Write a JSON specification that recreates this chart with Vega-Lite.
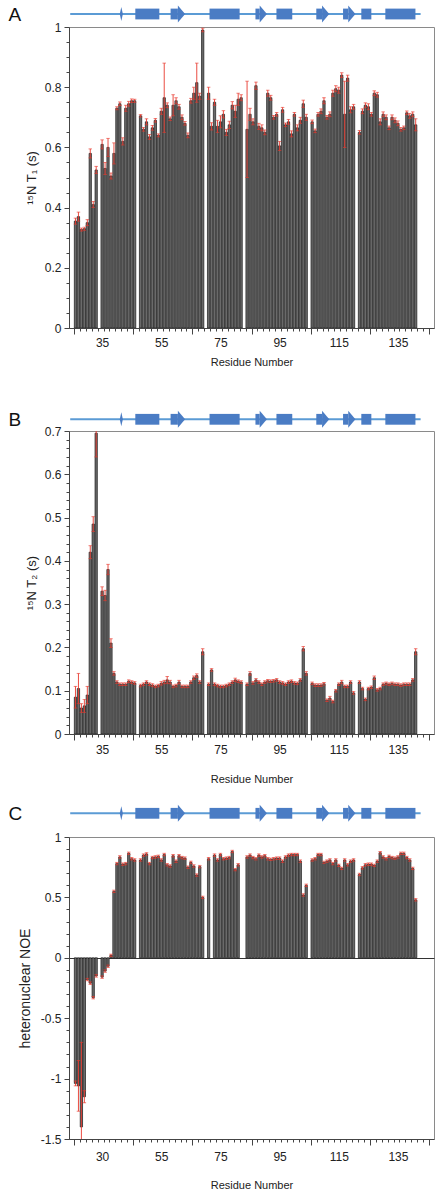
{
  "$schema": "https://vega.github.io/schema/vega-lite/v6.json",
  "padding": {"left": 8, "top": 0, "right": 0, "bottom": 0},
  "spacing": 0,
  "bounds": "flush",
  "config": {
    "font": "Liberation Sans",
    "view": {"stroke": "#8a8a8a"},
    "axis": {"grid": false, "domainColor": "#444", "tickColor": "#444", "labelColor": "#222", "titleColor": "#222", "labelFontSize": 12, "titleFontWeight": "normal", "labelOverlap": false, "labelFlush": false, "labelBound": false}
  },
  "datasets": {
    "coil": [{"s": 25.9, "e": 141.1}],
    "helix": [{"s": 47.3, "e": 55.2}, {"s": 71.7, "e": 81.6}, {"s": 93.7, "e": 98.9}, {"s": 121.6, "e": 124.9}, {"s": 129.5, "e": 139.4}],
    "strand": [{"s": 58.9, "e": 61.3}, {"s": 86.8, "e": 88.2}, {"s": 106.8, "e": 108.7}, {"s": 115.6, "e": 117.3}],
    "bridge": [{"p": 42.7}],
    "t1": [
      {"r":26,"v":0.355,"e":0.01},{"r":27,"v":0.37,"e":0.015},{"r":28,"v":0.327,"e":0.005},{"r":29,"v":0.33,"e":0.005},{"r":30,"v":0.35,"e":0.01},{"r":31,"v":0.58,"e":0.015},{"r":32,"v":0.41,"e":0.01},{"r":33,"v":0.525,"e":0.012},{"r":35,"v":0.61,"e":0.015},{"r":36,"v":0.53,"e":0.02},{"r":37,"v":0.6,"e":0.03},{"r":38,"v":0.505,"e":0.01},{"r":39,"v":0.58,"e":0.035},{"r":40,"v":0.73,"e":0.005},{"r":41,"v":0.745,"e":0.006},{"r":42,"v":0.62,"e":0.012},{"r":43,"v":0.73,"e":0.01},{"r":44,"v":0.745,"e":0.008},{"r":45,"v":0.755,"e":0.006},{"r":46,"v":0.755,"e":0.005},
      {"r":48,"v":0.705,"e":0.004},{"r":49,"v":0.66,"e":0.006},{"r":50,"v":0.685,"e":0.01},{"r":51,"v":0.635,"e":0.008},{"r":52,"v":0.665,"e":0.008},{"r":53,"v":0.69,"e":0.006},{"r":54,"v":0.64,"e":0.005},{"r":55,"v":0.72,"e":0.01},{"r":56,"v":0.765,"e":0.115},{"r":57,"v":0.74,"e":0.008},{"r":58,"v":0.695,"e":0.006},{"r":59,"v":0.74,"e":0.035},{"r":60,"v":0.755,"e":0.01},{"r":61,"v":0.735,"e":0.008},{"r":62,"v":0.7,"e":0.008},{"r":63,"v":0.68,"e":0.006},{"r":64,"v":0.64,"e":0.008},{"r":65,"v":0.755,"e":0.008},{"r":66,"v":0.78,"e":0.02},{"r":67,"v":0.815,"e":0.065},{"r":68,"v":0.77,"e":0.01},{"r":69,"v":0.99,"e":0.006},
      {"r":71,"v":0.78,"e":0.02},{"r":72,"v":0.67,"e":0.012},{"r":73,"v":0.75,"e":0.01},{"r":74,"v":0.67,"e":0.02},{"r":75,"v":0.685,"e":0.02},{"r":76,"v":0.71,"e":0.012},{"r":77,"v":0.65,"e":0.01},{"r":78,"v":0.675,"e":0.012},{"r":79,"v":0.74,"e":0.012},{"r":80,"v":0.72,"e":0.02},{"r":81,"v":0.76,"e":0.02},{"r":82,"v":0.765,"e":0.01},
      {"r":84,"v":0.66,"e":0.16},{"r":85,"v":0.71,"e":0.02},{"r":86,"v":0.685,"e":0.01},{"r":87,"v":0.805,"e":0.012},{"r":88,"v":0.67,"e":0.01},{"r":89,"v":0.665,"e":0.01},{"r":90,"v":0.65,"e":0.008},{"r":91,"v":0.78,"e":0.01},{"r":92,"v":0.765,"e":0.008},{"r":93,"v":0.7,"e":0.006},{"r":94,"v":0.71,"e":0.006},{"r":95,"v":0.605,"e":0.015},{"r":96,"v":0.725,"e":0.008},{"r":97,"v":0.675,"e":0.006},{"r":98,"v":0.685,"e":0.008},{"r":99,"v":0.645,"e":0.01},{"r":100,"v":0.71,"e":0.006},{"r":101,"v":0.665,"e":0.01},{"r":102,"v":0.69,"e":0.01},{"r":103,"v":0.745,"e":0.012},{"r":104,"v":0.7,"e":0.01},
      {"r":106,"v":0.685,"e":0.006},{"r":107,"v":0.655,"e":0.006},{"r":108,"v":0.71,"e":0.006},{"r":109,"v":0.72,"e":0.008},{"r":110,"v":0.755,"e":0.01},{"r":111,"v":0.7,"e":0.006},{"r":112,"v":0.71,"e":0.008},{"r":113,"v":0.78,"e":0.01},{"r":114,"v":0.795,"e":0.01},{"r":115,"v":0.79,"e":0.01},{"r":116,"v":0.84,"e":0.008},{"r":117,"v":0.71,"e":0.11},{"r":118,"v":0.83,"e":0.01},{"r":119,"v":0.725,"e":0.01},{"r":120,"v":0.735,"e":0.008},
      {"r":122,"v":0.65,"e":0.006},{"r":123,"v":0.72,"e":0.008},{"r":124,"v":0.74,"e":0.008},{"r":125,"v":0.735,"e":0.01},{"r":126,"v":0.71,"e":0.006},{"r":127,"v":0.78,"e":0.008},{"r":128,"v":0.775,"e":0.008},{"r":129,"v":0.685,"e":0.01},{"r":130,"v":0.71,"e":0.008},{"r":131,"v":0.7,"e":0.008},{"r":132,"v":0.665,"e":0.006},{"r":133,"v":0.7,"e":0.008},{"r":134,"v":0.69,"e":0.008},{"r":135,"v":0.68,"e":0.008},{"r":136,"v":0.66,"e":0.006},{"r":137,"v":0.665,"e":0.006},{"r":138,"v":0.715,"e":0.006},{"r":139,"v":0.705,"e":0.008},{"r":140,"v":0.71,"e":0.008},{"r":141,"v":0.675,"e":0.02}
    ],
    "t2": [
      {"r":26,"v":0.085,"e":0.025},{"r":27,"v":0.105,"e":0.035},{"r":28,"v":0.06,"e":0.01},{"r":29,"v":0.065,"e":0.015},{"r":30,"v":0.09,"e":0.02},{"r":31,"v":0.42,"e":0.015},{"r":32,"v":0.485,"e":0.017},{"r":33,"v":0.695,"e":0.055},{"r":35,"v":0.33,"e":0.01},{"r":36,"v":0.32,"e":0.012},{"r":37,"v":0.38,"e":0.012},{"r":38,"v":0.21,"e":0.01},{"r":39,"v":0.14,"e":0.004},{"r":40,"v":0.12,"e":0.003},{"r":41,"v":0.115,"e":0.003},{"r":42,"v":0.115,"e":0.003},{"r":43,"v":0.115,"e":0.003},{"r":44,"v":0.122,"e":0.003},{"r":45,"v":0.12,"e":0.003},{"r":46,"v":0.118,"e":0.003},
      {"r":48,"v":0.112,"e":0.003},{"r":49,"v":0.115,"e":0.003},{"r":50,"v":0.12,"e":0.003},{"r":51,"v":0.115,"e":0.003},{"r":52,"v":0.113,"e":0.003},{"r":53,"v":0.11,"e":0.003},{"r":54,"v":0.112,"e":0.003},{"r":55,"v":0.117,"e":0.004},{"r":56,"v":0.12,"e":0.004},{"r":57,"v":0.125,"e":0.008},{"r":58,"v":0.12,"e":0.004},{"r":59,"v":0.11,"e":0.003},{"r":60,"v":0.112,"e":0.003},{"r":61,"v":0.12,"e":0.004},{"r":62,"v":0.11,"e":0.003},{"r":63,"v":0.11,"e":0.003},{"r":64,"v":0.11,"e":0.003},{"r":65,"v":0.12,"e":0.003},{"r":66,"v":0.13,"e":0.004},{"r":67,"v":0.135,"e":0.004},{"r":68,"v":0.12,"e":0.003},{"r":69,"v":0.19,"e":0.007},
      {"r":71,"v":0.115,"e":0.003},{"r":72,"v":0.148,"e":0.003},{"r":73,"v":0.115,"e":0.003},{"r":74,"v":0.112,"e":0.003},{"r":75,"v":0.11,"e":0.003},{"r":76,"v":0.11,"e":0.003},{"r":77,"v":0.112,"e":0.003},{"r":78,"v":0.115,"e":0.003},{"r":79,"v":0.12,"e":0.003},{"r":80,"v":0.125,"e":0.004},{"r":81,"v":0.122,"e":0.003},{"r":82,"v":0.12,"e":0.003},
      {"r":84,"v":0.115,"e":0.003},{"r":85,"v":0.14,"e":0.004},{"r":86,"v":0.118,"e":0.003},{"r":87,"v":0.125,"e":0.003},{"r":88,"v":0.12,"e":0.003},{"r":89,"v":0.115,"e":0.003},{"r":90,"v":0.12,"e":0.003},{"r":91,"v":0.123,"e":0.003},{"r":92,"v":0.122,"e":0.003},{"r":93,"v":0.123,"e":0.003},{"r":94,"v":0.125,"e":0.003},{"r":95,"v":0.12,"e":0.003},{"r":96,"v":0.118,"e":0.003},{"r":97,"v":0.115,"e":0.003},{"r":98,"v":0.12,"e":0.003},{"r":99,"v":0.122,"e":0.003},{"r":100,"v":0.118,"e":0.003},{"r":101,"v":0.117,"e":0.003},{"r":102,"v":0.125,"e":0.003},{"r":103,"v":0.197,"e":0.005},{"r":104,"v":0.14,"e":0.004},
      {"r":106,"v":0.117,"e":0.003},{"r":107,"v":0.113,"e":0.003},{"r":108,"v":0.113,"e":0.003},{"r":109,"v":0.113,"e":0.003},{"r":110,"v":0.116,"e":0.003},{"r":111,"v":0.078,"e":0.003},{"r":112,"v":0.083,"e":0.004},{"r":113,"v":0.075,"e":0.003},{"r":114,"v":0.1,"e":0.003},{"r":115,"v":0.115,"e":0.003},{"r":116,"v":0.12,"e":0.004},{"r":117,"v":0.11,"e":0.003},{"r":118,"v":0.11,"e":0.003},{"r":119,"v":0.12,"e":0.003},{"r":120,"v":0.095,"e":0.003},
      {"r":122,"v":0.12,"e":0.003},{"r":123,"v":0.105,"e":0.003},{"r":124,"v":0.08,"e":0.003},{"r":125,"v":0.105,"e":0.003},{"r":126,"v":0.108,"e":0.003},{"r":127,"v":0.13,"e":0.004},{"r":128,"v":0.102,"e":0.003},{"r":129,"v":0.105,"e":0.003},{"r":130,"v":0.115,"e":0.003},{"r":131,"v":0.117,"e":0.003},{"r":132,"v":0.115,"e":0.003},{"r":133,"v":0.117,"e":0.003},{"r":134,"v":0.115,"e":0.003},{"r":135,"v":0.115,"e":0.003},{"r":136,"v":0.113,"e":0.003},{"r":137,"v":0.115,"e":0.003},{"r":138,"v":0.115,"e":0.003},{"r":139,"v":0.115,"e":0.003},{"r":140,"v":0.125,"e":0.003},{"r":141,"v":0.19,"e":0.007}
    ],
    "noe": [
      {"r":26,"v":-1.04,"e":0.02},{"r":27,"v":-1.06,"e":0.21},{"r":28,"v":-1.4,"e":0.7},{"r":29,"v":-1.15,"e":0.05},{"r":30,"v":-0.18,"e":0.01},{"r":31,"v":-0.21,"e":0.01},{"r":32,"v":-0.33,"e":0.01},{"r":33,"v":-0.15,"e":0.01},{"r":35,"v":-0.16,"e":0.01},{"r":36,"v":-0.11,"e":0.01},{"r":37,"v":-0.07,"e":0.01},{"r":38,"v":0.02,"e":0.01},{"r":39,"v":0.55,"e":0.01},{"r":40,"v":0.78,"e":0.01},{"r":41,"v":0.835,"e":0.01},{"r":42,"v":0.775,"e":0.01},{"r":43,"v":0.78,"e":0.01},{"r":44,"v":0.865,"e":0.01},{"r":45,"v":0.82,"e":0.01},{"r":46,"v":0.81,"e":0.01},
      {"r":48,"v":0.81,"e":0.01},{"r":49,"v":0.85,"e":0.01},{"r":50,"v":0.86,"e":0.01},{"r":51,"v":0.78,"e":0.01},{"r":52,"v":0.83,"e":0.01},{"r":53,"v":0.835,"e":0.01},{"r":54,"v":0.84,"e":0.01},{"r":55,"v":0.81,"e":0.01},{"r":56,"v":0.855,"e":0.01},{"r":57,"v":0.77,"e":0.01},{"r":58,"v":0.76,"e":0.01},{"r":59,"v":0.845,"e":0.01},{"r":60,"v":0.8,"e":0.01},{"r":61,"v":0.845,"e":0.01},{"r":62,"v":0.83,"e":0.01},{"r":63,"v":0.825,"e":0.01},{"r":64,"v":0.75,"e":0.01},{"r":65,"v":0.79,"e":0.01},{"r":66,"v":0.76,"e":0.01},{"r":67,"v":0.685,"e":0.01},{"r":68,"v":0.755,"e":0.01},{"r":69,"v":0.5,"e":0.01},
      {"r":71,"v":0.82,"e":0.01},{"r":73,"v":0.85,"e":0.01},{"r":74,"v":0.81,"e":0.01},{"r":75,"v":0.855,"e":0.01},{"r":76,"v":0.82,"e":0.01},{"r":77,"v":0.825,"e":0.01},{"r":78,"v":0.83,"e":0.01},{"r":79,"v":0.88,"e":0.01},{"r":80,"v":0.73,"e":0.01},{"r":81,"v":0.77,"e":0.01},
      {"r":84,"v":0.835,"e":0.01},{"r":85,"v":0.85,"e":0.01},{"r":86,"v":0.83,"e":0.01},{"r":87,"v":0.82,"e":0.01},{"r":88,"v":0.85,"e":0.01},{"r":89,"v":0.835,"e":0.01},{"r":90,"v":0.845,"e":0.01},{"r":91,"v":0.82,"e":0.01},{"r":92,"v":0.815,"e":0.01},{"r":93,"v":0.82,"e":0.01},{"r":94,"v":0.825,"e":0.01},{"r":95,"v":0.825,"e":0.01},{"r":96,"v":0.8,"e":0.01},{"r":97,"v":0.835,"e":0.01},{"r":98,"v":0.85,"e":0.01},{"r":99,"v":0.855,"e":0.01},{"r":100,"v":0.855,"e":0.01},{"r":101,"v":0.855,"e":0.01},{"r":102,"v":0.8,"e":0.01},{"r":103,"v":0.52,"e":0.01},{"r":104,"v":0.6,"e":0.01},
      {"r":106,"v":0.81,"e":0.01},{"r":107,"v":0.82,"e":0.01},{"r":108,"v":0.855,"e":0.01},{"r":109,"v":0.855,"e":0.01},{"r":110,"v":0.79,"e":0.01},{"r":111,"v":0.8,"e":0.01},{"r":112,"v":0.81,"e":0.01},{"r":113,"v":0.78,"e":0.01},{"r":114,"v":0.81,"e":0.01},{"r":115,"v":0.765,"e":0.01},{"r":116,"v":0.74,"e":0.01},{"r":117,"v":0.81,"e":0.01},{"r":118,"v":0.77,"e":0.01},{"r":119,"v":0.8,"e":0.01},{"r":120,"v":0.81,"e":0.01},
      {"r":122,"v":0.69,"e":0.01},{"r":123,"v":0.745,"e":0.01},{"r":124,"v":0.77,"e":0.01},{"r":125,"v":0.775,"e":0.01},{"r":126,"v":0.775,"e":0.01},{"r":127,"v":0.765,"e":0.01},{"r":128,"v":0.8,"e":0.01},{"r":129,"v":0.87,"e":0.01},{"r":130,"v":0.835,"e":0.01},{"r":131,"v":0.82,"e":0.01},{"r":132,"v":0.84,"e":0.01},{"r":133,"v":0.83,"e":0.01},{"r":134,"v":0.825,"e":0.01},{"r":135,"v":0.835,"e":0.01},{"r":136,"v":0.865,"e":0.01},{"r":137,"v":0.865,"e":0.01},{"r":138,"v":0.83,"e":0.01},{"r":139,"v":0.81,"e":0.01},{"r":140,"v":0.74,"e":0.01},{"r":141,"v":0.48,"e":0.01}
    ]
  },
  "vconcat": [
    {
      "width": 365, "height": 27, "view": {"stroke": null},
      "layer": [
        {"data": {"name": "coil"}, "mark": {"type": "rule", "color": "#5b9bd5", "strokeWidth": 2},
         "encoding": {"x": {"field": "s", "type": "quantitative", "scale": {"domain": [25.5, 145.5], "nice": false, "zero": false}, "axis": null}, "x2": {"field": "e"},
           "y": {"datum": 0, "type": "quantitative", "scale": {"domain": [-1.444, 1.556], "nice": false, "zero": false}, "axis": {"title": "A", "domain": false, "ticks": false, "labels": false, "titleAngle": 0, "titleX": -61, "titleY": 14, "titleAlign": "left", "titleBaseline": "middle", "titleFontSize": 19, "titleColor": "#111"}}}},
        {"data": {"name": "helix"}, "mark": {"type": "rect", "color": "#4a7cc4"},
         "encoding": {"x": {"field": "s", "type": "quantitative", "axis": null}, "x2": {"field": "e"},
           "y": {"datum": -0.6, "type": "quantitative", "title": "A"}, "y2": {"datum": 0.6}}},
        {"data": {"name": "strand"}, "mark": {"type": "rect", "color": "#4a7cc4"},
         "encoding": {"x": {"field": "s", "type": "quantitative", "axis": null}, "x2": {"field": "e"},
           "y": {"datum": -0.6, "type": "quantitative", "title": "A"}, "y2": {"datum": 0.6}}},
        {"data": {"name": "strand"}, "mark": {"type": "point", "filled": true, "color": "#4a7cc4", "opacity": 1, "shape": "M0,-1L0.85,0L0,1Z", "size": 289, "strokeWidth": 0},
         "encoding": {"x": {"field": "e", "type": "quantitative", "axis": null},
           "y": {"datum": 0, "type": "quantitative", "title": "A"}}},
        {"data": {"name": "bridge"}, "mark": {"type": "point", "filled": true, "color": "#4a7cc4", "opacity": 1, "shape": "M0,-1L0.22,0L0,1L-0.22,0Z", "size": 196, "strokeWidth": 0},
         "encoding": {"x": {"field": "p", "type": "quantitative", "axis": null},
           "y": {"datum": 0, "type": "quantitative", "title": "A"}}}
      ]
    },
    {
      "width": 365, "height": 301, "data": {"name": "t1"},
      "encoding": {
        "x": {"field": "r", "type": "quantitative", "title": "Residue Number", "scale": {"domain": [25.5, 145.5], "nice": false, "zero": false},
          "axis": {"values": [25.5,27.5,29.5,31.5,33.5,35.5,37.5,39.5,41.5,43.5,45.5,47.5,49.5,51.5,53.5,55.5,57.5,59.5,61.5,63.5,65.5,67.5,69.5,71.5,73.5,75.5,77.5,79.5,81.5,83.5,85.5,87.5,89.5,91.5,93.5,95.5,97.5,99.5,101.5,103.5,105.5,107.5,109.5,111.5,113.5,115.5,117.5,119.5,121.5,123.5,125.5,127.5,129.5,131.5,133.5,135.5,137.5,139.5,141.5,143.5,145.5,35,55,75,95,115,135],
            "format": "d", "labelExpr": "datum.value % 20 == 15 ? datum.label : ''", "labelOverlap": false, "labelFlush": false,
            "tickSize": {"condition": {"test": "(datum.value - 25.5) % 20 == 0", "value": 6}, "value": 3},
            "tickOpacity": {"condition": {"test": "datum.value % 20 == 15", "value": 0}, "value": 1},
            "labelPadding": 6, "titleFontSize": 11, "titlePadding": 5}},
        "y": {"field": "v", "type": "quantitative", "title": "¹⁵N T₁ (s)", "scale": {"domain": [0, 1], "nice": false},
          "axis": {"values": [0,0.05,0.1,0.15,0.2,0.25,0.3,0.35,0.4,0.45,0.5,0.55,0.6,0.65,0.7,0.75,0.8,0.85,0.9,0.95,1],
            "format": "~g", "labelExpr": "round(datum.value*100) % 20 == 0 ? datum.label : ''", "labelOverlap": false, "labelFlush": false,
            "tickSize": {"condition": {"test": "round(datum.value*100) % 20 == 0", "value": 5}, "value": 3},
            "labelPadding": 3, "titleFontSize": 13, "titlePadding": 6}}
      },
      "layer": [
        {"mark": {"type": "bar", "width": 2.3, "fill": "#6a6a6a", "stroke": "#1a1a1a", "strokeWidth": 0.7, "clip": true}},
        {"mark": {"type": "errorbar", "color": "#e8382c", "thickness": 0.9, "ticks": {"size": 3.5, "color": "#e8382c", "thickness": 0.9}, "clip": true},
         "encoding": {"yError": {"field": "e"}}}
      ]
    },
    {
      "width": 365, "height": 103, "view": {"stroke": null},
      "layer": [
        {"data": {"name": "coil"}, "mark": {"type": "rule", "color": "#5b9bd5", "strokeWidth": 2},
         "encoding": {"x": {"field": "s", "type": "quantitative", "scale": {"domain": [25.5, 145.5], "nice": false, "zero": false}, "axis": null}, "x2": {"field": "e"},
           "y": {"datum": 0, "type": "quantitative", "scale": {"domain": [-1.3, 10.144], "nice": false, "zero": false}, "axis": {"title": "B", "domain": false, "ticks": false, "labels": false, "titleAngle": 0, "titleX": -61, "titleY": 91.3, "titleAlign": "left", "titleBaseline": "middle", "titleFontSize": 19, "titleColor": "#111"}}}},
        {"data": {"name": "helix"}, "mark": {"type": "rect", "color": "#4a7cc4"},
         "encoding": {"x": {"field": "s", "type": "quantitative", "axis": null}, "x2": {"field": "e"},
           "y": {"datum": -0.6, "type": "quantitative", "title": "B"}, "y2": {"datum": 0.6}}},
        {"data": {"name": "strand"}, "mark": {"type": "rect", "color": "#4a7cc4"},
         "encoding": {"x": {"field": "s", "type": "quantitative", "axis": null}, "x2": {"field": "e"},
           "y": {"datum": -0.6, "type": "quantitative", "title": "B"}, "y2": {"datum": 0.6}}},
        {"data": {"name": "strand"}, "mark": {"type": "point", "filled": true, "color": "#4a7cc4", "opacity": 1, "shape": "M0,-1L0.85,0L0,1Z", "size": 289, "strokeWidth": 0},
         "encoding": {"x": {"field": "e", "type": "quantitative", "axis": null},
           "y": {"datum": 0, "type": "quantitative", "title": "B"}}},
        {"data": {"name": "bridge"}, "mark": {"type": "point", "filled": true, "color": "#4a7cc4", "opacity": 1, "shape": "M0,-1L0.22,0L0,1L-0.22,0Z", "size": 196, "strokeWidth": 0},
         "encoding": {"x": {"field": "p", "type": "quantitative", "axis": null},
           "y": {"datum": 0, "type": "quantitative", "title": "B"}}}
      ]
    },
    {
      "width": 365, "height": 303, "data": {"name": "t2"},
      "encoding": {
        "x": {"field": "r", "type": "quantitative", "title": "Residue Number", "scale": {"domain": [25.5, 145.5], "nice": false, "zero": false},
          "axis": {"values": [25.5,27.5,29.5,31.5,33.5,35.5,37.5,39.5,41.5,43.5,45.5,47.5,49.5,51.5,53.5,55.5,57.5,59.5,61.5,63.5,65.5,67.5,69.5,71.5,73.5,75.5,77.5,79.5,81.5,83.5,85.5,87.5,89.5,91.5,93.5,95.5,97.5,99.5,101.5,103.5,105.5,107.5,109.5,111.5,113.5,115.5,117.5,119.5,121.5,123.5,125.5,127.5,129.5,131.5,133.5,135.5,137.5,139.5,141.5,143.5,145.5,35,55,75,95,115,135],
            "format": "d", "labelExpr": "datum.value % 20 == 15 ? datum.label : ''", "labelOverlap": false, "labelFlush": false,
            "tickSize": {"condition": {"test": "(datum.value - 25.5) % 20 == 0", "value": 6}, "value": 3},
            "tickOpacity": {"condition": {"test": "datum.value % 20 == 15", "value": 0}, "value": 1},
            "labelPadding": 7, "titleFontSize": 11, "titlePadding": 15}},
        "y": {"field": "v", "type": "quantitative", "title": "¹⁵N T₂ (s)", "scale": {"domain": [0, 0.7], "nice": false},
          "axis": {"values": [0,0.02,0.04,0.06,0.08,0.1,0.12,0.14,0.16,0.18,0.2,0.22,0.24,0.26,0.28,0.3,0.32,0.34,0.36,0.38,0.4,0.42,0.44,0.46,0.48,0.5,0.52,0.54,0.56,0.58,0.6,0.62,0.64,0.66,0.68,0.7],
            "format": "~g", "labelExpr": "round(datum.value*100) % 10 == 0 ? datum.label : ''", "labelOverlap": false, "labelFlush": false,
            "tickSize": {"condition": {"test": "round(datum.value*100) % 10 == 0", "value": 5}, "value": 3},
            "labelPadding": 3, "titleFontSize": 13, "titlePadding": 6}}
      },
      "layer": [
        {"mark": {"type": "bar", "width": 2.3, "fill": "#6a6a6a", "stroke": "#1a1a1a", "strokeWidth": 0.7, "clip": true}},
        {"mark": {"type": "errorbar", "color": "#e8382c", "thickness": 0.9, "ticks": {"size": 3.5, "color": "#e8382c", "thickness": 0.9}, "clip": true},
         "encoding": {"yError": {"field": "e"}}}
      ]
    },
    {
      "width": 365, "height": 103, "view": {"stroke": null},
      "layer": [
        {"data": {"name": "coil"}, "mark": {"type": "rule", "color": "#5b9bd5", "strokeWidth": 2},
         "encoding": {"x": {"field": "s", "type": "quantitative", "scale": {"domain": [25.5, 145.5], "nice": false, "zero": false}, "axis": null}, "x2": {"field": "e"},
           "y": {"datum": 0, "type": "quantitative", "scale": {"domain": [-2.633, 8.811], "nice": false, "zero": false}, "axis": {"title": "C", "domain": false, "ticks": false, "labels": false, "titleAngle": 0, "titleX": -61, "titleY": 79.3, "titleAlign": "left", "titleBaseline": "middle", "titleFontSize": 19, "titleColor": "#111"}}}},
        {"data": {"name": "helix"}, "mark": {"type": "rect", "color": "#4a7cc4"},
         "encoding": {"x": {"field": "s", "type": "quantitative", "axis": null}, "x2": {"field": "e"},
           "y": {"datum": -0.6, "type": "quantitative", "title": "C"}, "y2": {"datum": 0.6}}},
        {"data": {"name": "strand"}, "mark": {"type": "rect", "color": "#4a7cc4"},
         "encoding": {"x": {"field": "s", "type": "quantitative", "axis": null}, "x2": {"field": "e"},
           "y": {"datum": -0.6, "type": "quantitative", "title": "C"}, "y2": {"datum": 0.6}}},
        {"data": {"name": "strand"}, "mark": {"type": "point", "filled": true, "color": "#4a7cc4", "opacity": 1, "shape": "M0,-1L0.85,0L0,1Z", "size": 289, "strokeWidth": 0},
         "encoding": {"x": {"field": "e", "type": "quantitative", "axis": null},
           "y": {"datum": 0, "type": "quantitative", "title": "C"}}},
        {"data": {"name": "bridge"}, "mark": {"type": "point", "filled": true, "color": "#4a7cc4", "opacity": 1, "shape": "M0,-1L0.22,0L0,1L-0.22,0Z", "size": 196, "strokeWidth": 0},
         "encoding": {"x": {"field": "p", "type": "quantitative", "axis": null},
           "y": {"datum": 0, "type": "quantitative", "title": "C"}}}
      ]
    },
    {
      "width": 365, "height": 302, "data": {"name": "noe"},
      "encoding": {
        "x": {"field": "r", "type": "quantitative", "title": "Residue Number", "scale": {"domain": [25.5, 145.5], "nice": false, "zero": false},
          "axis": {"values": [25.5,27.5,29.5,31.5,33.5,35.5,37.5,39.5,41.5,43.5,45.5,47.5,49.5,51.5,53.5,55.5,57.5,59.5,61.5,63.5,65.5,67.5,69.5,71.5,73.5,75.5,77.5,79.5,81.5,83.5,85.5,87.5,89.5,91.5,93.5,95.5,97.5,99.5,101.5,103.5,105.5,107.5,109.5,111.5,113.5,115.5,117.5,119.5,121.5,123.5,125.5,127.5,129.5,131.5,133.5,135.5,137.5,139.5,141.5,143.5,145.5,35,55,75,95,115,135],
            "format": "d", "labelExpr": "datum.value == 35 ? '30' : (datum.value % 20 == 15 ? datum.label : '')", "labelOverlap": false, "labelFlush": false,
            "tickSize": {"condition": {"test": "(datum.value - 25.5) % 20 == 0", "value": 6}, "value": 3},
            "tickOpacity": {"condition": {"test": "datum.value % 20 == 15", "value": 0}, "value": 1},
            "labelPadding": 9, "titleFontSize": 11, "titlePadding": 14}},
        "y": {"field": "v", "type": "quantitative", "title": "heteronuclear NOE", "scale": {"domain": [-1.5, 1], "nice": false},
          "axis": {"values": [-1.5,-1.4,-1.3,-1.2,-1.1,-1,-0.9,-0.8,-0.7,-0.6,-0.5,-0.4,-0.3,-0.2,-0.1,0,0.1,0.2,0.3,0.4,0.5,0.6,0.7,0.8,0.9,1],
            "format": "~g", "labelExpr": "round(datum.value*10) % 5 == 0 ? replace(datum.label, '\u2212', '-') : ''", "labelOverlap": false, "labelFlush": false,
            "tickSize": {"condition": {"test": "round(datum.value*10) % 5 == 0", "value": 5}, "value": 3},
            "grid": true, "gridColor": "#333", "gridWidth": 1, "gridOpacity": {"condition": {"test": "datum.value == 0", "value": 1}, "value": 0},
            "labelPadding": 3, "titleFontSize": 14, "titlePadding": 8}}
      },
      "layer": [
        {"mark": {"type": "bar", "width": 2.3, "fill": "#6a6a6a", "stroke": "#1a1a1a", "strokeWidth": 0.7, "clip": true}},
        {"mark": {"type": "errorbar", "color": "#e8382c", "thickness": 0.9, "ticks": {"size": 3.5, "color": "#e8382c", "thickness": 0.9}, "clip": true},
         "encoding": {"yError": {"field": "e"}}}
      ]
    }
  ]
}
